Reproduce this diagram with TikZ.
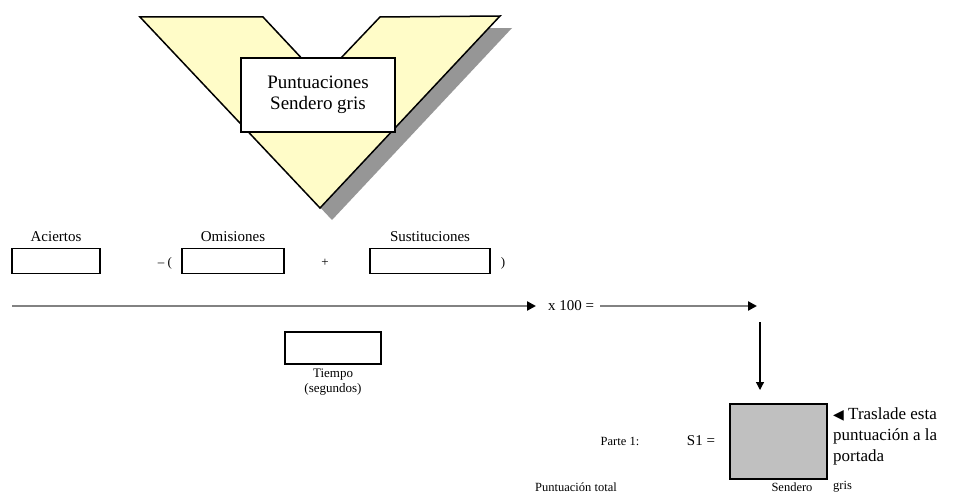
\documentclass[tikz,border=0pt]{standalone}
\usepackage{fontspec}
\setmainfont{Liberation Serif}
\newfontfamily\symfont{DejaVu Sans}
\usetikzlibrary{arrows.meta}
\definecolor{vyellow}{RGB}{255,252,200}
\definecolor{vshadow}{RGB}{150,150,150}
\definecolor{sgray}{RGB}{192,192,192}
\definecolor{agray}{RGB}{130,130,130}
\begin{document}
\begin{tikzpicture}[x=1pt,y=-1pt,
  lbl/.style={inner sep=0pt, font=\fontsize{12}{14}\selectfont},
  toplbl/.style={inner sep=0pt, font=\fontsize{15}{17}\selectfont},
  entry/.style={draw=black, line width=1.8pt, fill=white, inner sep=0pt},
  longarrow/.style={draw=agray, line width=2.5pt, -{Triangle[length=9pt,width=9pt,fill=black,color=black]}},
  thinarrow/.style={draw=black, line width=1.2pt, -{Triangle[length=8pt,width=8pt]}}
]
\useasboundingbox (0,0) rectangle (963,500);
% chevron shadow
\fill[vshadow] (152,29) -- (275,29) -- (333,91) -- (392,29) -- (512,28) -- (332,220) -- cycle;
% chevron
\filldraw[fill=vyellow, draw=black, line width=1.5pt, line join=miter]
  (140,17) -- (263,17) -- (321,79) -- (380,17) -- (500,16) -- (320,208) -- cycle;
% title box
\node[draw=black, line width=1.5pt, fill=white, minimum width=154pt, minimum height=74pt, inner sep=0pt,
  align=center, font=\fontsize{19}{21}\selectfont] (title) at (318,95) {Puntuaciones\\Sendero gris};
% entry boxes
\node[entry, minimum width=88pt, minimum height=25pt] (aci) at (56,261) {};
\node[entry, minimum width=102pt, minimum height=25pt] (omi) at (233,261) {};
\node[entry, minimum width=120pt, minimum height=25pt] (sus) at (430,261) {};
\node[toplbl, above=6pt] (acil) at (aci.north) {Aciertos};
\node[toplbl, above=6pt] (omil) at (omi.north) {Omisiones};
\node[toplbl, above=6pt] (susl) at (sus.north) {Sustituciones};
\node[lbl, font=\fontsize{13}{15}\selectfont] (minus) at (165,263) {-- (};
\node[lbl, font=\fontsize{13}{15}\selectfont] (plus) at (325,263) {+};
\node[lbl, font=\fontsize{13}{15}\selectfont] (close) at (503,263) {)};
% long fraction arrow
\coordinate (fs) at (12,306);
\coordinate (fe) at (536,306);
\draw[longarrow] (fs) -- (fe);
% tiempo
\node[entry, minimum width=96pt, minimum height=32pt] (tie) at (333,348) {};
\node[lbl, below=4pt, align=center, font=\fontsize{13}{15}\selectfont] (tiel) at (tie.south) {Tiempo\\(segundos)};
% x 100
\node[lbl, anchor=west, font=\fontsize{15}{17}\selectfont] (x100) at (548,306) {x 100 =};
\coordinate (xe) at (757,306);
\draw[longarrow] (x100.east) ++(6,0) coordinate (xs) (xs) -- (xe);
% vertical arrow
\coordinate (vs) at (760,322);
\coordinate (ve) at (760,390);
\draw[thinarrow] (vs) -- (ve);
% result box
\node[draw=black, line width=1.8pt, fill=sgray, minimum width=97pt, minimum height=75pt, inner sep=0pt] (s1box) at (778.5,441.5) {};
\node[lbl, font=\fontsize{12.5}{14}\selectfont] (parte) at (620,441) {Parte 1:};
\node[lbl, font=\fontsize{15}{17}\selectfont] (s1) at (701,441) {S1 =};
\node[lbl, font=\fontsize{12.5}{14}\selectfont] (ptotal) at (576,487) {Puntuación total};
\node[lbl, font=\fontsize{12.5}{14}\selectfont] (send) at (792,487) {Sendero};
\node[lbl, anchor=west, font=\fontsize{12.5}{14}\selectfont] (gris) at (833,487) {gris};
\node[lbl, anchor=west, align=left, font=\fontsize{17}{21}\selectfont] (tras) at (833,436)
  {{\symfont\fontsize{14}{21}\selectfont ◀} Traslade esta\\puntuación a la\\portada};
\end{tikzpicture}
\end{document}
